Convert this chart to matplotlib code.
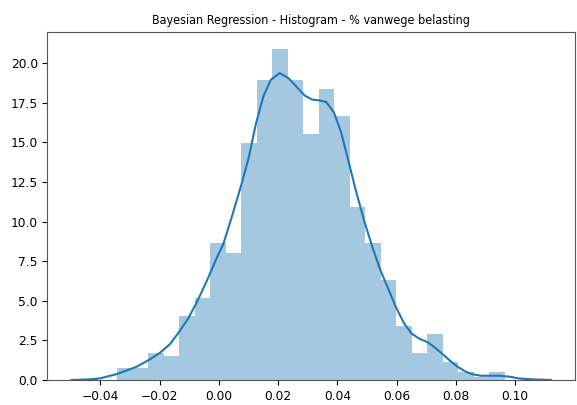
import numpy as np
import matplotlib
matplotlib.use("Agg")
from matplotlib import pyplot as plt

# histogram (density) - 25 bins
bin_start = -0.0343
bin_end = 0.0964
bar_heights = [0.73, 0.73, 1.71, 1.50, 4.02, 5.17, 8.65, 8.04, 14.94, 18.96,
               20.9, 18.96, 15.5, 18.4, 16.67, 10.9, 8.65, 6.31, 3.44, 1.71,
               2.875, 1.12, 0.52, 0.21, 0.52]

# kde curve
kde_x = [-0.0498, -0.0436, -0.0402, -0.0344, -0.0279, -0.0234, -0.0200, -0.0166,
         -0.0138, -0.0105, -0.0075, -0.0040, -0.0010, 0.0015, 0.0045, 0.0075,
         0.0100, 0.0125, 0.0150, 0.0175, 0.0205, 0.0235, 0.0265, 0.0290,
         0.0315, 0.0340, 0.0362, 0.0388, 0.0413, 0.0438, 0.0463, 0.0491,
         0.0519, 0.0544, 0.0570, 0.0598, 0.0626, 0.0651, 0.0677, 0.0703,
         0.0727, 0.0753, 0.0778, 0.0806, 0.0834, 0.0859, 0.0885, 0.0910,
         0.0947, 0.0980, 0.1014, 0.1058, 0.1121]
kde_y = [0.0, 0.04, 0.10, 0.38, 0.83, 1.29, 1.71, 2.25,
         2.95, 3.85, 4.9, 6.3, 7.6, 8.6, 10.4, 12.3,
         14.0, 16.2, 17.9, 18.95, 19.38, 19.05, 18.45, 17.95,
         17.7, 17.65, 17.55, 16.9, 15.6, 13.75, 11.9, 10.0,
         8.33, 6.98, 5.83, 4.58, 3.54, 2.92, 2.6, 2.4,
         2.08, 1.67, 1.25, 0.83, 0.52, 0.35, 0.27, 0.27,
         0.27, 0.21, 0.10, 0.04, 0.0]

edges = np.linspace(bin_start, bin_end, len(bar_heights) + 1)
width = edges[1] - edges[0]

fig = plt.figure(figsize=(5.77, 4.05), dpi=100)
ax = fig.add_axes([0.0823, 0.0617, 0.9965 - 0.0823, 0.92 - 0.0617])
ax.bar(edges[:-1], bar_heights, width=width, align="edge", color="#1f77b4", alpha=0.4, linewidth=0)
ax.plot(kde_x, kde_y, color="#1f77b4", linewidth=1.5)

ax.set_title("Bayesian Regression - Histogram - % vanwege belasting", fontsize=9,
             family=["DejaVu Sans"], fontstretch="condensed")
ax.tick_params(labelsize=8.8)
ax.set_yticks([0, 2.5, 5, 7.5, 10, 12.5, 15, 17.5, 20])
ax.set_xticks([-0.04, -0.02, 0.0, 0.02, 0.04, 0.06, 0.08, 0.10])
ax.set_xticklabels(["\u22120.04", "\u22120.02", "0.00", "0.02", "0.04", "0.06", "0.08", "0.10"])
for s in ax.spines.values():
    s.set_color("#555555")

plt.savefig("out.png", dpi=100)
